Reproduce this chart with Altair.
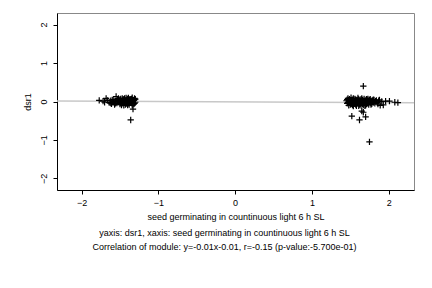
import altair as alt
import pandas as pd

# Left cluster
left_x = [-1.77,-1.72,-1.70,-1.68,-1.66,-1.64,-1.62,-1.61,-1.60,-1.59,-1.58,-1.57,-1.56,-1.55,-1.54,
          -1.53,-1.52,-1.51,-1.50,-1.49,-1.48,-1.47,-1.46,-1.45,-1.44,-1.43,-1.42,-1.41,-1.40,-1.39,
          -1.38,-1.37,-1.36,-1.36,-1.35,-1.34,-1.33,-1.33,-1.32,-1.31,-1.30,-1.31,-1.34,-1.38,-1.42,
          -1.46,-1.50,-1.40,-1.36,-1.44,-1.48,-1.52,-1.56,-1.32,-1.30,-1.35,-1.39,-1.43,-1.47,-1.41,
          -1.33,-1.37,-1.45,-1.49,-1.53,-1.58,-1.62,-1.31,-1.35,-1.40]
left_y = [0.03,0.01,-0.02,0.08,0.03,-0.03,0.02,-0.06,0.04,-0.02,0.05,-0.08,0.01,0.13,-0.04,
          0.06,-0.01,0.03,-0.07,0.07,0.00,-0.05,0.04,-0.10,0.08,0.02,-0.06,0.05,-0.02,0.09,
          -0.08,0.03,-0.48,0.06,-0.04,0.10,-0.20,0.01,-0.07,0.05,-0.02,0.08,-0.10,0.06,0.09,
          -0.03,0.05,-0.09,0.00,-0.01,-0.09,0.08,-0.05,0.03,0.06,0.07,-0.05,-0.08,0.08,0.00,
          0.04,-0.03,0.06,-0.04,0.02,-0.01,-0.04,-0.05,0.02,0.07]

# Right cluster
right_x = [1.45,1.46,1.47,1.48,1.49,1.50,1.51,1.52,1.52,1.53,1.54,1.55,1.56,1.57,1.58,1.59,1.60,
           1.61,1.62,1.62,1.63,1.64,1.65,1.65,1.66,1.67,1.67,1.67,1.68,1.69,1.70,1.70,1.71,1.72,
           1.73,1.74,1.75,1.75,1.76,1.77,1.78,1.79,1.80,1.81,1.82,1.83,1.85,1.87,1.89,1.91,1.93,
           1.96,2.01,2.08,2.12,1.47,1.49,1.50,1.52,1.54,1.55,1.57,1.58,1.60,1.61,1.63,1.64,1.66,
           1.68,1.69,1.71,1.72,1.74,1.76,1.78,1.80,1.46,1.48,1.51,1.53,1.56,1.59,1.62,1.65,1.70,
           1.73,1.77,1.84,1.86,1.88,1.50,1.55,1.60,1.66,1.72,1.79]
right_y = [0.02,-0.05,0.08,-0.10,0.04,-0.02,0.10,-0.38,-0.07,0.05,-0.12,0.01,0.07,-0.08,0.03,-0.04,0.09,
           -0.11,-0.48,0.02,-0.06,0.06,-0.25,-0.02,0.04,0.40,-0.28,-0.09,0.07,-0.03,-0.40,0.03,-0.07,0.05,
           -0.01,-0.08,-1.05,0.04,-0.04,0.02,-0.06,0.03,-0.02,0.04,-0.05,0.01,-0.03,0.02,-0.10,0.00,-0.09,
           0.01,0.01,-0.02,-0.03,-0.03,0.06,-0.08,0.03,0.08,-0.06,0.05,-0.11,-0.01,0.06,0.00,-0.10,-0.07,
           0.01,-0.11,0.06,-0.05,0.02,0.06,0.00,0.05,0.05,0.00,-0.04,-0.09,-0.01,0.04,-0.08,0.08,-0.10,
           0.07,-0.08,0.03,-0.07,0.04,0.01,-0.03,-0.05,0.02,-0.02,-0.01]

# Regression line endpoints: y = -0.01x - 0.01
line_x = [-2.32, 2.33]
line_y = [0.0132, -0.0333]

x_ticks = [-2, -1, 0, 1, 2]
y_ticks = [-2, -1, 0, 1, 2]

x_title = "seed germinating in countinuous light 6 h SL"
y_title = "dsr1"
caption = ["yaxis: dsr1, xaxis: seed germinating in countinuous light 6 h SL",
           "Correlation of module: y=-0.01x-0.01, r=-0.15 (p-value:-5.700e-01)"]

pts = pd.DataFrame({"x": left_x + right_x, "y": left_y + right_y})
ln = pd.DataFrame({"x": line_x, "y": line_y})

FONT = "Liberation Sans"
FS = 9
xscale = alt.Scale(domain=[-2.32, 2.33], nice=False, zero=False)
yscale = alt.Scale(domain=[-2.3, 2.3], nice=False, zero=False)

xaxis = alt.Axis(values=x_ticks, format="d", title=x_title, grid=False, domainColor="black",
                 tickColor="black", tickSize=4, labelPadding=4, labelFontSize=FS, labelColor="black",
                 labelFont=FONT, titleFont=FONT, titleFontSize=FS, titleFontWeight="normal",
                 titleColor="black", titlePadding=5, labelFlush=False)
yaxis = alt.Axis(values=y_ticks, format="d", title=y_title, grid=False, domainColor="black",
                 tickColor="black", tickSize=4, labelPadding=5, labelFontSize=FS, labelColor="black",
                 labelFont=FONT, labelAngle=270, labelAlign="center", labelBaseline="bottom",
                 titleFont=FONT, titleFontSize=FS, titleFontWeight="normal", titleColor="black",
                 titlePadding=7, labelFlush=False)

line = alt.Chart(ln).mark_line(color="#c8c8c8", strokeWidth=1.5, clip=True).encode(
    x=alt.X("x:Q", scale=xscale, axis=xaxis),
    y=alt.Y("y:Q", scale=yscale, axis=yaxis),
)

plus = "M-1,0L1,0M0,-1L0,1"
points = alt.Chart(pts).mark_point(shape=plus, filled=False, color="black", size=40,
                                   strokeWidth=1.2, opacity=1).encode(
    x=alt.X("x:Q", scale=xscale),
    y=alt.Y("y:Q", scale=yscale),
)

chart = alt.layer(line, points).properties(
    width=357, height=177,
    autosize=alt.AutoSizeParams(type="none"),
    padding={"left": 57, "top": 13, "right": 18, "bottom": 98},
    background="white",
    title=alt.TitleParams(text=caption, orient="bottom", anchor="middle", dx=-11, offset=8,
                          font=FONT, fontSize=FS, fontWeight="normal", color="black",
                          lineHeight=13.5),
).configure_view(stroke="#888888", strokeWidth=1)

chart.save("out.html", embed_options={"renderer": "svg", "actions": False})
